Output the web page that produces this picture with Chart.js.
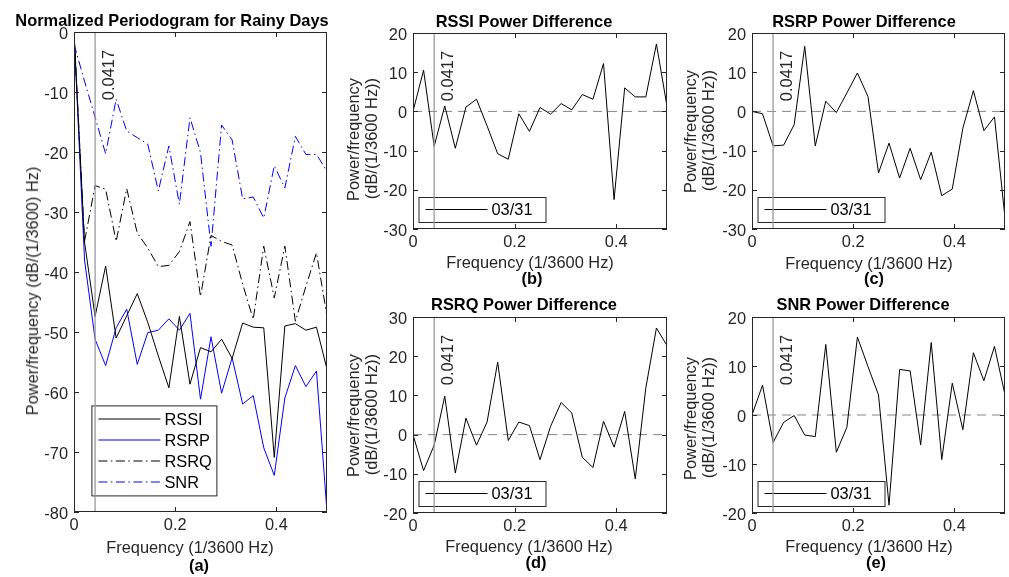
<!DOCTYPE html>
<html>
<head>
<meta charset="utf-8">
<script src="https://cdn.jsdelivr.net/npm/chart.js@4.4.1/dist/chart.umd.min.js"></script>
<style>
  body { margin:0; background:#fff; width:1009px; height:577px; overflow:hidden; position:relative;
         font-family:"Liberation Sans", Arial, sans-serif; color:#262626; }
  canvas { position:absolute; }
  .lbl { position:absolute; font-size:16.4px; line-height:18px; white-space:nowrap; transform:translate(-50%,-50%); }
  .ttl { font-weight:bold; color:#000; }
  .rot { transform:translate(-50%,-50%) rotate(-90deg); }
  .two { width:140px; text-align:right; }
</style>
</head>
<body>
<canvas id="pa" width="340" height="577" style="left:0;top:0"></canvas>
<canvas id="pb" width="335" height="290" style="left:340px;top:0"></canvas>
<canvas id="pc" width="334" height="290" style="left:675px;top:0"></canvas>
<canvas id="pd" width="335" height="287" style="left:340px;top:290px"></canvas>
<canvas id="pe" width="334" height="287" style="left:675px;top:290px"></canvas>

<div class="lbl ttl" style="left:172px;top:20px">Normalized Periodogram for Rainy Days</div>
<div class="lbl rot" style="left:32px;top:291px">Power/frequency (dB/(1/3600) Hz)</div>
<div class="lbl" style="left:190px;top:547px">Frequency (1/3600 Hz)</div>
<div class="lbl ttl" style="left:199px;top:565px">(a)</div>

<div class="lbl ttl" style="left:524px;top:21px">RSSI Power Difference</div>
<div class="lbl rot two" style="left:362px;top:148px">Power/frequency<br>(dB/(1/3600 Hz))</div>
<div class="lbl" style="left:530px;top:262px">Frequency (1/3600 Hz)</div>
<div class="lbl ttl" style="left:532px;top:278px">(b)</div>

<div class="lbl ttl" style="left:864px;top:21px">RSRP Power Difference</div>
<div class="lbl rot two" style="left:699px;top:140px">Power/frequency<br>(dB/(1/3600 Hz))</div>
<div class="lbl" style="left:869px;top:263px">Frequency (1/3600 Hz)</div>
<div class="lbl ttl" style="left:874px;top:278px">(c)</div>

<div class="lbl ttl" style="left:524px;top:304px">RSRQ Power Difference</div>
<div class="lbl rot two" style="left:362px;top:424px">Power/frequency<br>(dB/(1/3600 Hz))</div>
<div class="lbl" style="left:529px;top:546px">Frequency (1/3600 Hz)</div>
<div class="lbl ttl" style="left:536px;top:562px">(d)</div>

<div class="lbl ttl" style="left:863px;top:304px">SNR Power Difference</div>
<div class="lbl rot two" style="left:699px;top:427px">Power/frequency<br>(dB/(1/3600 Hz))</div>
<div class="lbl" style="left:869px;top:546px">Frequency (1/3600 Hz)</div>
<div class="lbl ttl" style="left:876px;top:562px">(e)</div>

<script>
// frequency bins (1/3600 Hz), 1/48 spacing
const freq = [0, 0.0208, 0.0417, 0.0625, 0.0833, 0.1042, 0.125, 0.1458, 0.1667, 0.1875,
              0.2083, 0.2292, 0.25, 0.2708, 0.2917, 0.3125, 0.3333, 0.3542, 0.375, 0.3958,
              0.4167, 0.4375, 0.4583, 0.4792, 0.5];
const markerFreq = 0.0417;

// (a) normalized periodogram, rainy days
const rssiNorm = [0, -35, -47.4, -39, -51, -47.3, -43.6, -48.4, -54, -59.3, -47.4, -58.7, -52.6,
                  -53.3, -51.2, -54.4, -48.5, -49.2, -49.3, -70.9, -49, -48.6, -49.7, -49.2, -56.2];
const rsrpNorm = [0, -38, -51.2, -55.6, -49.3, -46.2, -55.4, -50.1, -49.7, -47.8, -49.7, -46.9, -61.2,
                  -50.8, -60.2, -54.3, -62, -60.6, -69.3, -73.9, -61, -55.6, -59.1, -56.5, -80];
const rsrqNorm = [0, -34.9, -25.6, -26.2, -34.9, -26.1, -33.5, -36, -39.1, -38.9, -36.6, -31.6, -44.1,
                  -33.9, -34.9, -35.5, -42, -47.9, -35.7, -44.3, -35.7, -48.2, -42.4, -36.8, -47.4];
const snrNorm  = [-2, -8.2, -14.2, -20.3, -11.2, -16.5, -17.6, -18.7, -26.5, -19, -28.7, -14.3, -20.1,
                  -35.7, -15.5, -18, -27.8, -27.5, -31, -22.3, -26, -17.4, -20.4, -20.4, -23.2];

// (b)-(e) power difference, 03/31
const rssiDiff = [0, 10.5, -8.9, 1.4, -9.4, 1.1, 3.1, -3.7, -10.8, -12.2, -0.6, -5.1, 1.0,
                  -0.7, 2.0, 0.4, 4.3, 3.1, 12.2, -22.5, 6.0, 3.7, 3.7, 17.2, 1.3];
const rsrpDiff = [0, -0.6, -8.8, -8.6, -3.4, 16.6, -8.8, 2.6, -0.3, 4.7, 9.8, 3.8, -15.7,
                  -8.1, -17, -9.4, -17.4, -10.4, -21.5, -19.8, -4.3, 5.3, -4.9, -1.4, -27.2];
const rsrqDiff = [0, -9.2, -2.7, 9.8, -9.8, 4.2, -2.7, 3.2, 18.5, -1.5, 3.2, 2.3, -6.4,
                  2.1, 8.2, 5.5, -5.8, -8.4, 3.4, -3.2, 5.9, -11.3, 11.9, 27.2, 22.7];
const snrDiff  = [0, 6.1, -5.6, -1.5, -0.1, -4.1, -4.4, 14.4, -7.6, -2.5, 15.9, 9.9, 4.1,
                  -18.4, 9.3, 9.0, -6.1, 14.8, -9.1, 6.5, -3.0, 12.7, 7.0, 14.0, 4.1];

const xRange = [0, 0.5];
const xStep = 0.2;
const yRangeA = [-80, 0];
const yRangeB = [-30, 20];
const yRangeC = [-30, 20];
const yRangeD = [-20, 30];
const yRangeE = [-20, 20];

const AXIS = '#262626';
const FONT = '"Liberation Sans", Arial, sans-serif';
const dashDot = [9, 3.5, 1.5, 3.5];

function pts(vals) {
  return vals.map((v, i) => ({ x: freq[i], y: v }));
}

// MATLAB-like box, inward ticks, marker line/text, boxed legend
const matlabAxes = {
  id: 'matlabAxes',
  beforeDatasetsDraw(chart, args, opts) {
    const { ctx, chartArea: a, scales: { y } } = chart;
    if (!opts.zeroLine) return;
    ctx.save();
    const py = y.getPixelForValue(0);
    ctx.strokeStyle = '#858585';
    ctx.lineWidth = 1;
    ctx.setLineDash([9, 6]);
    ctx.beginPath(); ctx.moveTo(a.left, py); ctx.lineTo(a.right, py); ctx.stroke();
    ctx.restore();
  },
  afterDatasetsDraw(chart, args, opts) {
    const { ctx, chartArea: a, scales: { x, y } } = chart;
    ctx.save();

    // legend
    const lg = opts.legend;
    const bx = a.left + lg.x, by = a.bottom - lg.gap - lg.h;
    ctx.fillStyle = '#fff';
    ctx.fillRect(bx, by, lg.w, lg.h);
    ctx.strokeStyle = AXIS; ctx.lineWidth = 1; ctx.setLineDash([]);
    ctx.strokeRect(bx + 0.5, by + 0.5, lg.w, lg.h);
    ctx.font = '16.4px ' + FONT;
    ctx.textBaseline = 'middle'; ctx.textAlign = 'left';
    chart.data.datasets.forEach((ds, i) => {
      const ly = by + lg.first + i * lg.step;
      ctx.strokeStyle = ds.borderColor;
      ctx.setLineDash(ds.borderDash || []);
      ctx.beginPath(); ctx.moveTo(bx + 7, ly); ctx.lineTo(bx + 69, ly); ctx.stroke();
      ctx.fillStyle = '#000';
      ctx.fillText(ds.label, bx + 73, ly + 1);
    });

    // marker line + rotated text
    const mx = x.getPixelForValue(markerFreq);
    ctx.setLineDash([]);
    ctx.strokeStyle = '#9a9a9a'; ctx.lineWidth = 1.3;
    ctx.beginPath(); ctx.moveTo(mx, a.top); ctx.lineTo(mx, a.bottom); ctx.stroke();
    ctx.save();
    ctx.translate(mx + 14, a.top + 18);
    ctx.rotate(-Math.PI / 2);
    ctx.fillStyle = AXIS; ctx.textAlign = 'right'; ctx.textBaseline = 'middle';
    ctx.fillText(String(markerFreq), 0, 0);
    ctx.restore();

    // box and inward ticks
    ctx.strokeStyle = AXIS; ctx.lineWidth = 1;
    ctx.strokeRect(a.left + 0.5, a.top + 0.5, a.right - a.left - 1, a.bottom - a.top - 1);
    const tl = 5;
    ctx.beginPath();
    x.ticks.forEach(t => {
      const p = Math.round(x.getPixelForValue(t.value)) + 0.5;
      ctx.moveTo(p, a.bottom); ctx.lineTo(p, a.bottom - tl);
      ctx.moveTo(p, a.top); ctx.lineTo(p, a.top + tl);
    });
    y.ticks.forEach(t => {
      const p = Math.round(y.getPixelForValue(t.value)) + 0.5;
      ctx.moveTo(a.left, p); ctx.lineTo(a.left + tl, p);
      ctx.moveTo(a.right, p); ctx.lineTo(a.right - tl, p);
    });
    ctx.stroke();
    ctx.restore();
  }
};

function makePanel(id, datasets, yRange, geo, legend, zeroLine) {
  new Chart(document.getElementById(id), {
    type: 'line',
    data: { datasets: datasets },
    options: {
      responsive: false,
      animation: false,
      devicePixelRatio: 1,
      layout: { padding: { top: geo.top, right: geo.right, left: 0, bottom: 0 } },
      elements: { point: { radius: 0 }, line: { borderWidth: 1, tension: 0 } },
      plugins: {
        legend: { display: false },
        tooltip: { enabled: false },
        matlabAxes: { legend: legend, zeroLine: zeroLine }
      },
      scales: {
        x: {
          type: 'linear', min: xRange[0], max: xRange[1],
          grid: { display: false, drawTicks: false },
          border: { display: false },
          ticks: { stepSize: xStep, includeBounds: false, padding: 4, color: AXIS,
                   font: { size: 16.4, family: FONT } },
          afterFit: s => { s.height = geo.xh; }
        },
        y: {
          min: yRange[0], max: yRange[1],
          grid: { display: false, drawTicks: false },
          border: { display: false },
          ticks: { stepSize: 10, padding: 6, labelOffset: 2, color: AXIS,
                   font: { size: 16.4, family: FONT } },
          afterFit: s => { s.width = geo.yw; }
        }
      }
    },
    plugins: [matlabAxes]
  });
}

const smallLegend = { x: 5.5, gap: 7, w: 127, h: 25, first: 12.5, step: 21 };
const diffLine = label => ({ label: label, borderColor: '#000', borderWidth: 1 });

makePanel('pa', [
  { label: 'RSSI', data: pts(rssiNorm), borderColor: '#000' },
  { label: 'RSRP', data: pts(rsrpNorm), borderColor: '#0000ff' },
  { label: 'RSRQ', data: pts(rsrqNorm), borderColor: '#000', borderDash: dashDot },
  { label: 'SNR',  data: pts(snrNorm),  borderColor: '#0000ff', borderDash: dashDot }
], yRangeA, { top: 32, right: 13, yw: 74, xh: 65 },
   { x: 17.4, gap: 16.6, w: 125, h: 90, first: 13.6, step: 21 }, false);

makePanel('pb', [Object.assign(diffLine('03/31'), { data: pts(rssiDiff) })],
  yRangeB, { top: 33, right: 8, yw: 73, xh: 61 }, smallLegend, true);
makePanel('pc', [Object.assign(diffLine('03/31'), { data: pts(rsrpDiff) })],
  yRangeC, { top: 33, right: 4, yw: 77, xh: 61 }, smallLegend, true);
makePanel('pd', [Object.assign(diffLine('03/31'), { data: pts(rsrqDiff) })],
  yRangeD, { top: 27, right: 8, yw: 73, xh: 64 }, smallLegend, true);
makePanel('pe', [Object.assign(diffLine('03/31'), { data: pts(snrDiff) })],
  yRangeE, { top: 27, right: 4, yw: 77, xh: 64 }, smallLegend, true);
</script>
</body>
</html>
